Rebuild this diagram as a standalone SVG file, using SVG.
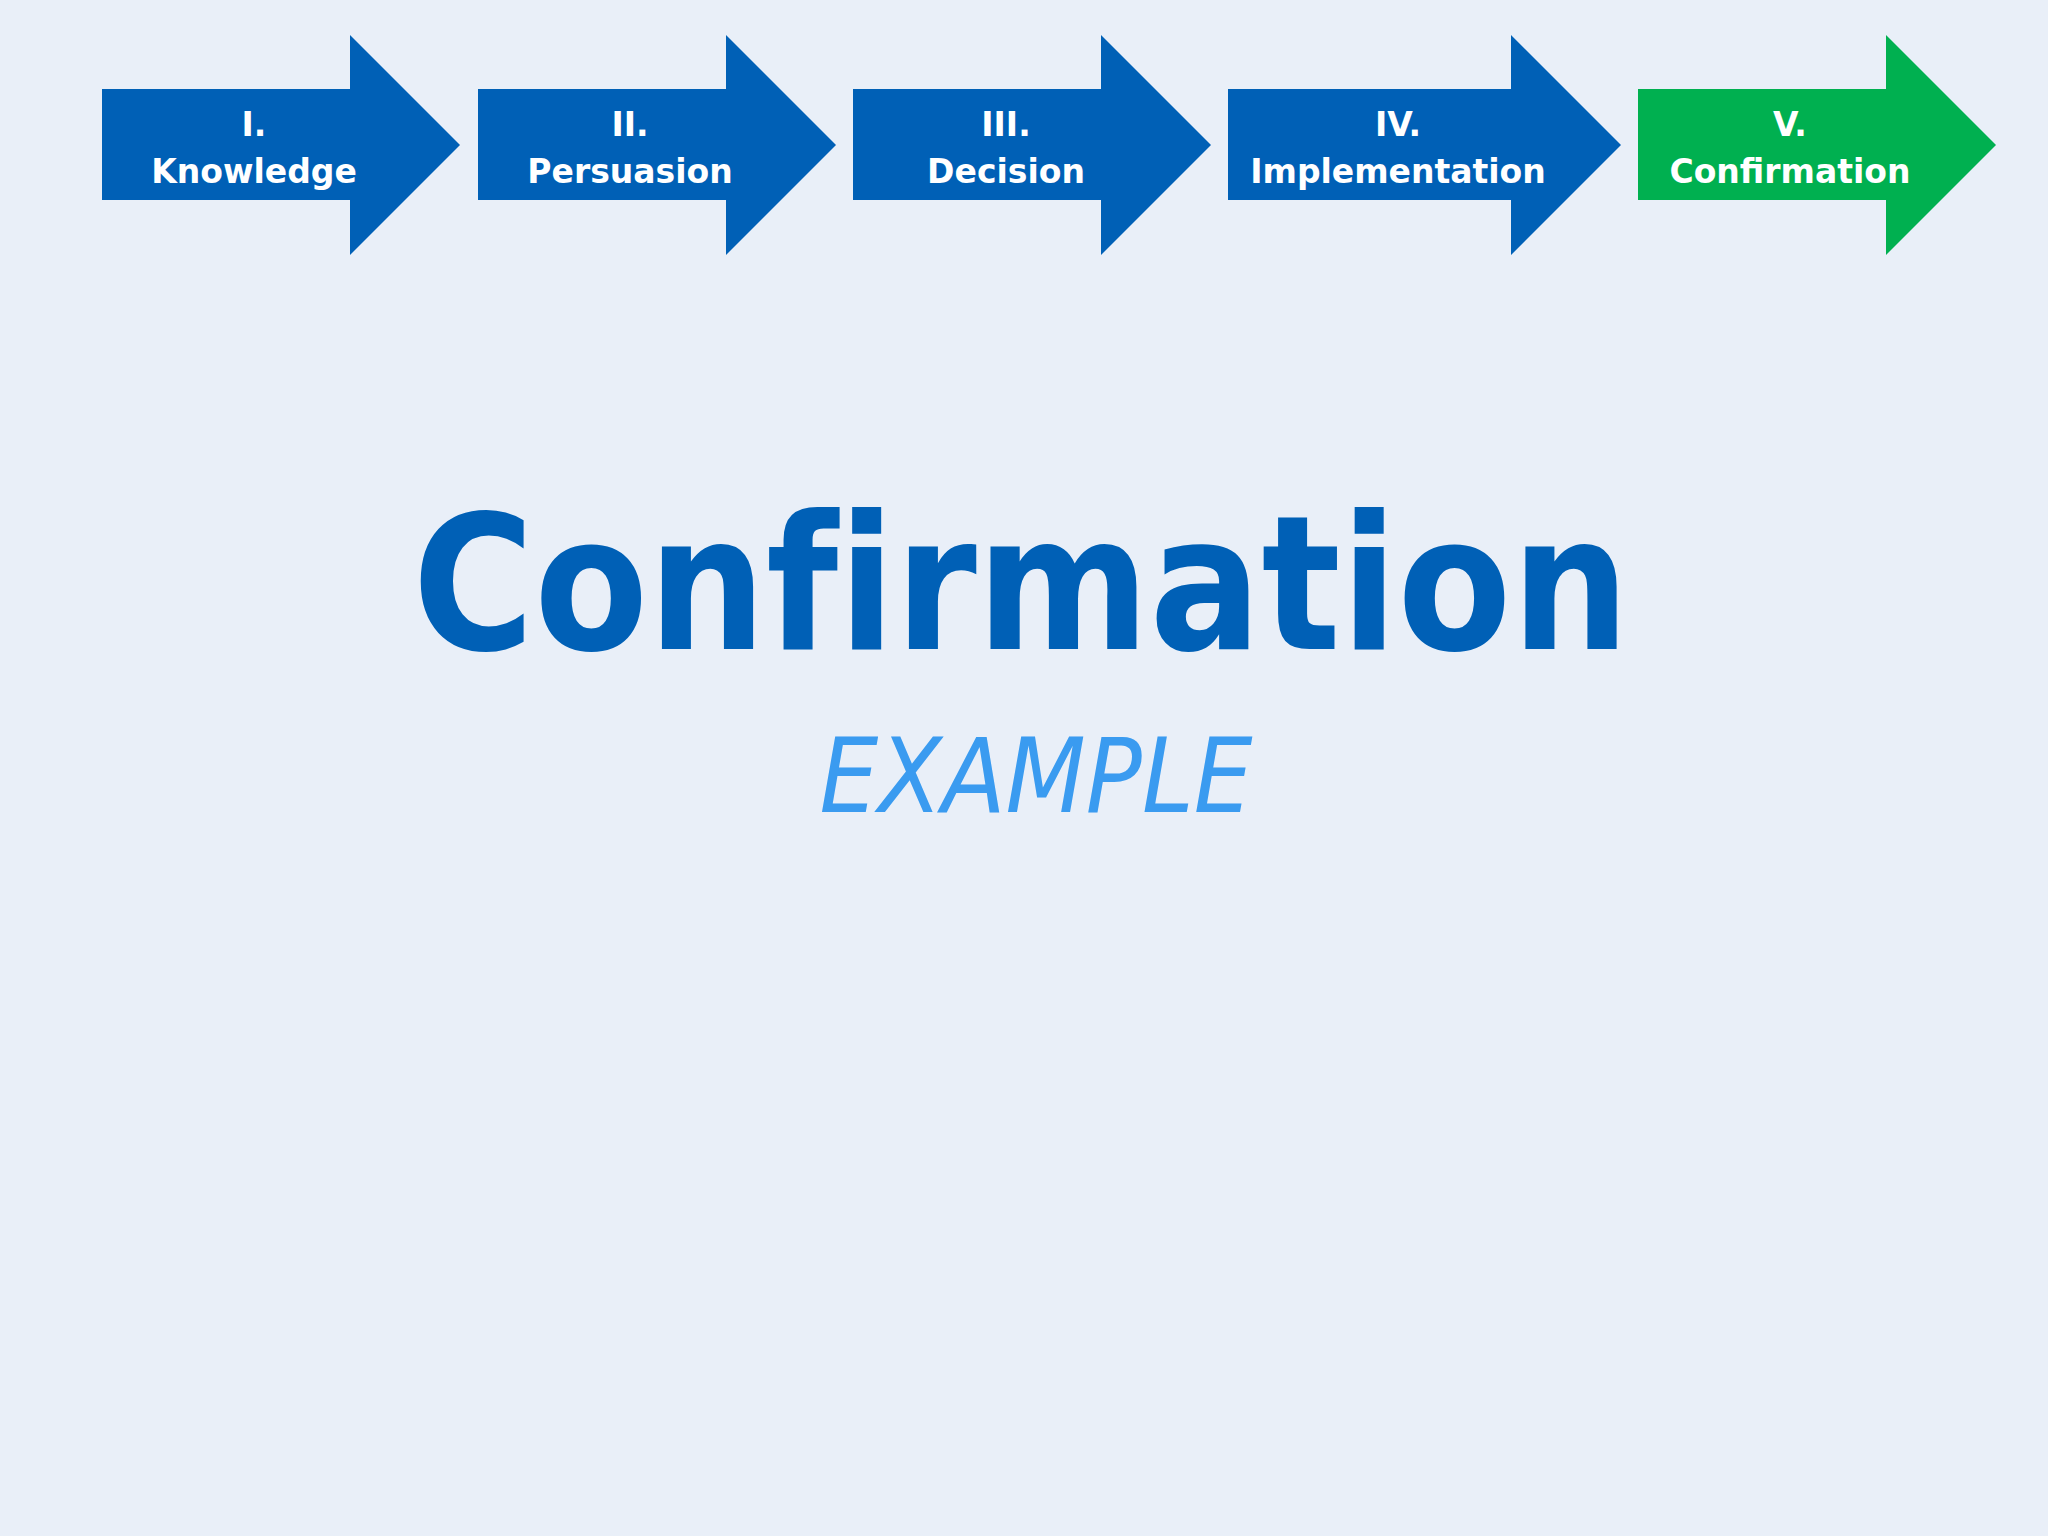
<svg xmlns="http://www.w3.org/2000/svg" width="2048" height="1536" viewBox="0 0 2048 1536">
<style>
.blue{fill:#0060B6}
.green{fill:#00B050}
.lbl{font-family:"DejaVu Sans",Verdana,sans-serif;font-weight:bold;font-size:33px;fill:#FFFFFF;text-anchor:middle}
.title{font-family:"DejaVu Sans",Verdana,sans-serif;font-weight:bold;font-size:188px;fill:#0060B6;text-anchor:middle;font-variant-ligatures:none}
.sub{font-family:"DejaVu Sans",Verdana,sans-serif;font-style:oblique;font-size:103px;fill:#3A9BF0;text-anchor:middle}
</style>
<rect x="0" y="0" width="2048" height="1536" fill="#E9EFF8"/>
<g id="step1">
<polygon class="blue" points="102,89 350,89 350,35 460,145 350,255 350,200 102,200"/>
<text class="lbl" x="254" y="136">I.</text>
<text class="lbl" x="254" y="183">Knowledge</text>
</g>
<g id="step2">
<polygon class="blue" points="478,89 726,89 726,35 836,145 726,255 726,200 478,200"/>
<text class="lbl" x="630" y="136">II.</text>
<text class="lbl" x="630" y="183">Persuasion</text>
</g>
<g id="step3">
<polygon class="blue" points="853,89 1101,89 1101,35 1211,145 1101,255 1101,200 853,200"/>
<text class="lbl" x="1006" y="136">III.</text>
<text class="lbl" x="1006" y="183">Decision</text>
</g>
<g id="step4">
<polygon class="blue" points="1228,89 1511,89 1511,35 1621,145 1511,255 1511,200 1228,200"/>
<text class="lbl" x="1398" y="136">IV.</text>
<text class="lbl" x="1398" y="183">Implementation</text>
</g>
<g id="step5">
<polygon class="green" points="1638,89 1886,89 1886,35 1996,145 1886,255 1886,200 1638,200"/>
<text class="lbl" x="1790" y="136">V.</text>
<text class="lbl" x="1790" y="183">Confirmation</text>
</g>
<g id="connectors"></g>
<g id="heading">
<text class="title" x="1021" y="649" textLength="1217" lengthAdjust="spacingAndGlyphs">Confirmation</text>
<text class="sub" x="1036" y="812" textLength="433" lengthAdjust="spacingAndGlyphs">EXAMPLE</text>
</g>
</svg>
